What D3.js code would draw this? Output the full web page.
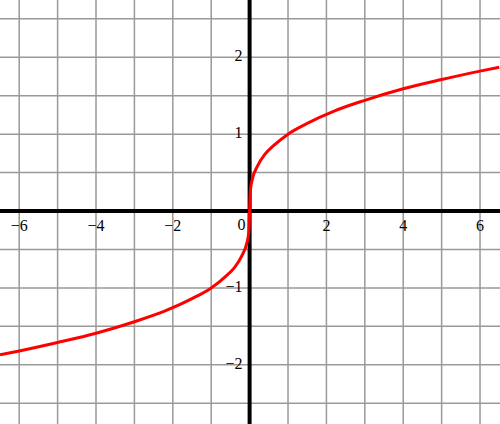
<!DOCTYPE html>
<html><head><meta charset="utf-8">
<script src="https://cdn.jsdelivr.net/npm/d3@7"></script>
<style>body{margin:0;background:#fff}svg{display:block}</style>
</head><body>
<script>
// Data
const curveX = [-6.5,-6,-5,-4,-3,-2.2,-1.5,-1,-0.6,-0.4,-0.2,-0.08,-0.02,0,0.02,0.08,0.2,0.4,0.6,1,1.5,2.2,3,4,5,6,6.5];
const curveY = [-1.87,-1.82,-1.71,-1.59,-1.44,-1.30,-1.14,-1.0,-0.84,-0.74,-0.58,-0.43,-0.27,0,0.27,0.43,0.58,0.74,0.84,1.0,1.14,1.30,1.44,1.59,1.71,1.82,1.87];
const xTicks = [-6,-4,-2,2,4,6];
const yTicks = [-2,-1,1,2];
const xGrid = [-6,-5,-4,-3,-2,-1,1,2,3,4,5,6];
const yGrid = [-2.5,-2,-1.5,-1,-0.5,0.5,1,1.5,2,2.5];

const W = 500, H = 424;
const x = d3.scaleLinear().domain([-6.5, 6.52]).range([0, 500]);
const y = d3.scaleLinear().domain([2.745, -2.77]).range([0, 424]);

const svg = d3.select("body").append("svg").attr("width", W).attr("height", H);

svg.append("g").selectAll("line").data(xGrid).join("line")
  .attr("x1", d => x(d)).attr("x2", d => x(d)).attr("y1", 0).attr("y2", H)
  .attr("stroke", "#999").attr("stroke-width", 1.5);
svg.append("g").selectAll("line").data(yGrid).join("line")
  .attr("y1", d => y(d)).attr("y2", d => y(d)).attr("x1", 0).attr("x2", W)
  .attr("stroke", "#999").attr("stroke-width", 1.5);

// axes
svg.append("line").attr("x1", 0).attr("x2", W).attr("y1", y(0)).attr("y2", y(0))
  .attr("stroke", "#000").attr("stroke-width", 4);
svg.append("line").attr("y1", 0).attr("y2", H).attr("x1", x(0)).attr("x2", x(0))
  .attr("stroke", "#000").attr("stroke-width", 4);

const font = "'Liberation Serif', 'Times New Roman', serif";
const fmt = d => d < 0 ? "\u2212" + Math.abs(d) : String(d);

// x labels
const xl = svg.append("g").attr("font-family", font).attr("font-size", 16);
xl.selectAll("text").data(xTicks).join("text")
  .attr("x", d => x(d)).attr("y", y(0) + 20).attr("text-anchor", "middle").text(fmt);

// y labels
const yl = svg.append("g").attr("font-family", font).attr("font-size", 16);
yl.selectAll("text").data(yTicks).join("text")
  .attr("x", x(0) - 7).attr("y", d => y(d) + 4).attr("text-anchor", "end").text(fmt);

svg.append("text").attr("font-family", font).attr("font-size", 16)
  .attr("x", x(0) - 4).attr("y", y(0) + 19).attr("text-anchor", "end").text("0");

// curve
const pts = curveX.map((d, i) => [d, curveY[i]]);
svg.append("path").datum(pts)
  .attr("fill", "none").attr("stroke", "#ff0000").attr("stroke-width", 3)
  .attr("stroke-linejoin", "round")
  .attr("d", d3.line().x(d => x(d[0])).y(d => y(d[1])).curve(d3.curveMonotoneX));
</script>
</body></html>
